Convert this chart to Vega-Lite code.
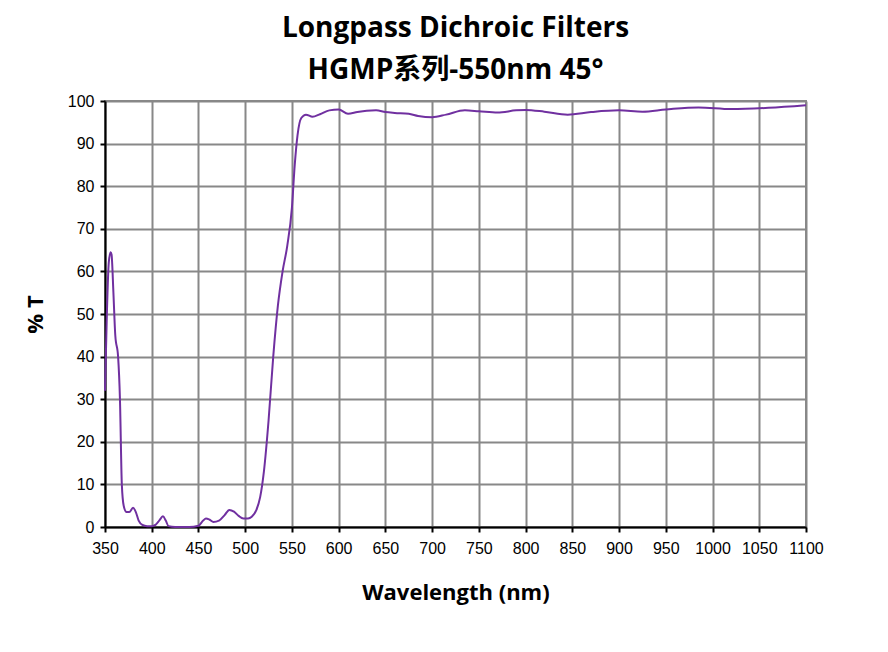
{
  "$schema": "https://vega.github.io/schema/vega-lite/v6.json",
  "autosize": "none",
  "padding": {"left": 105, "top": 101, "right": 82, "bottom": 125},
  "width": 701,
  "height": 426,
  "background": "white",
  "config": {"view": {"stroke": "#888888", "strokeWidth": 2}, "font": "Open Sans"},
  "title": {
    "text": ["Longpass Dichroic Filters", "HGMP系列-550nm 45°"],
    "font": "Open Sans, Noto Sans CJK SC",
    "fontSize": 28,
    "fontWeight": "bold",
    "lineHeight": 42,
    "color": "black",
    "anchor": "middle",
    "offset": 8
  },
  "data": {
    "values": [
      {"nm": 350, "t": 32}, {"nm": 352, "t": 50}, {"nm": 354, "t": 62}, {"nm": 356, "t": 64.5},
      {"nm": 357, "t": 64}, {"nm": 359, "t": 55}, {"nm": 361, "t": 45}, {"nm": 364, "t": 40},
      {"nm": 366, "t": 30}, {"nm": 368, "t": 10}, {"nm": 370, "t": 5}, {"nm": 373, "t": 3.5},
      {"nm": 376, "t": 3.5}, {"nm": 380, "t": 4.5}, {"nm": 383, "t": 3.5}, {"nm": 386, "t": 1.5},
      {"nm": 390, "t": 0.5}, {"nm": 395, "t": 0.2}, {"nm": 400, "t": 0.2}, {"nm": 404, "t": 0.5},
      {"nm": 408, "t": 1.5}, {"nm": 412, "t": 2.5}, {"nm": 415, "t": 1.5}, {"nm": 418, "t": 0.2},
      {"nm": 425, "t": 0}, {"nm": 440, "t": 0}, {"nm": 450, "t": 0.3}, {"nm": 455, "t": 1.5},
      {"nm": 458, "t": 2}, {"nm": 462, "t": 1.7}, {"nm": 466, "t": 1.2}, {"nm": 472, "t": 1.5},
      {"nm": 478, "t": 2.8}, {"nm": 483, "t": 4}, {"nm": 488, "t": 3.6}, {"nm": 493, "t": 2.6},
      {"nm": 498, "t": 2}, {"nm": 503, "t": 2}, {"nm": 507, "t": 2.4}, {"nm": 512, "t": 4},
      {"nm": 516, "t": 7}, {"nm": 520, "t": 13}, {"nm": 525, "t": 25}, {"nm": 530, "t": 40},
      {"nm": 535, "t": 52}, {"nm": 540, "t": 60}, {"nm": 545, "t": 66}, {"nm": 550, "t": 75},
      {"nm": 553, "t": 85}, {"nm": 556, "t": 92}, {"nm": 560, "t": 96}, {"nm": 565, "t": 96.8},
      {"nm": 572, "t": 96.3}, {"nm": 580, "t": 96.9}, {"nm": 590, "t": 97.8}, {"nm": 600, "t": 98},
      {"nm": 610, "t": 97}, {"nm": 620, "t": 97.4}, {"nm": 630, "t": 97.7}, {"nm": 640, "t": 97.8},
      {"nm": 650, "t": 97.4}, {"nm": 660, "t": 97.2}, {"nm": 675, "t": 97}, {"nm": 685, "t": 96.5},
      {"nm": 700, "t": 96.2}, {"nm": 715, "t": 96.8}, {"nm": 735, "t": 97.8}, {"nm": 750, "t": 97.6},
      {"nm": 770, "t": 97.3}, {"nm": 790, "t": 97.8}, {"nm": 800, "t": 97.9}, {"nm": 820, "t": 97.5},
      {"nm": 845, "t": 96.8}, {"nm": 870, "t": 97.4}, {"nm": 900, "t": 97.8}, {"nm": 925, "t": 97.5},
      {"nm": 950, "t": 98}, {"nm": 985, "t": 98.5}, {"nm": 1020, "t": 98.1}, {"nm": 1060, "t": 98.4},
      {"nm": 1100, "t": 99}
    ]
  },
  "mark": {"type": "line", "color": "#7030A0", "strokeWidth": 2, "interpolate": "monotone"},
  "encoding": {
    "x": {
      "field": "nm", "type": "quantitative",
      "scale": {"domain": [350, 1100], "nice": false},
      "axis": {
        "title": "Wavelength (nm)", "values": [350,400,450,500,550,600,650,700,750,800,850,900,950,1000,1050,1100],
        "format": "d", "labelOverlap": false, "labelFlush": false,
        "titleFontSize": 22, "titleFontWeight": "bold", "titleColor": "black", "titlePadding": 26,
        "labelFont": "Liberation Sans", "labelFontSize": 16, "labelColor": "black", "labelPadding": 8,
        "domainColor": "black", "domainWidth": 2, "tickColor": "black", "tickSize": 5, "tickWidth": 2,
        "gridColor": "#888888", "gridWidth": 2, "gridOpacity": 1
      }
    },
    "y": {
      "field": "t", "type": "quantitative",
      "scale": {"domain": [0, 100], "nice": false},
      "axis": {
        "title": "% T", "values": [0,10,20,30,40,50,60,70,80,90,100],
        "labelOverlap": false, "labelFlush": false,
        "titleFontSize": 22, "titleFontWeight": "bold", "titleColor": "black", "titlePadding": 20,
        "labelFont": "Liberation Sans", "labelFontSize": 16, "labelColor": "black", "labelPadding": 6,
        "domainColor": "black", "domainWidth": 2, "tickColor": "black", "tickSize": 5, "tickWidth": 2,
        "gridColor": "#888888", "gridWidth": 2, "gridOpacity": 1
      }
    }
  }
}
